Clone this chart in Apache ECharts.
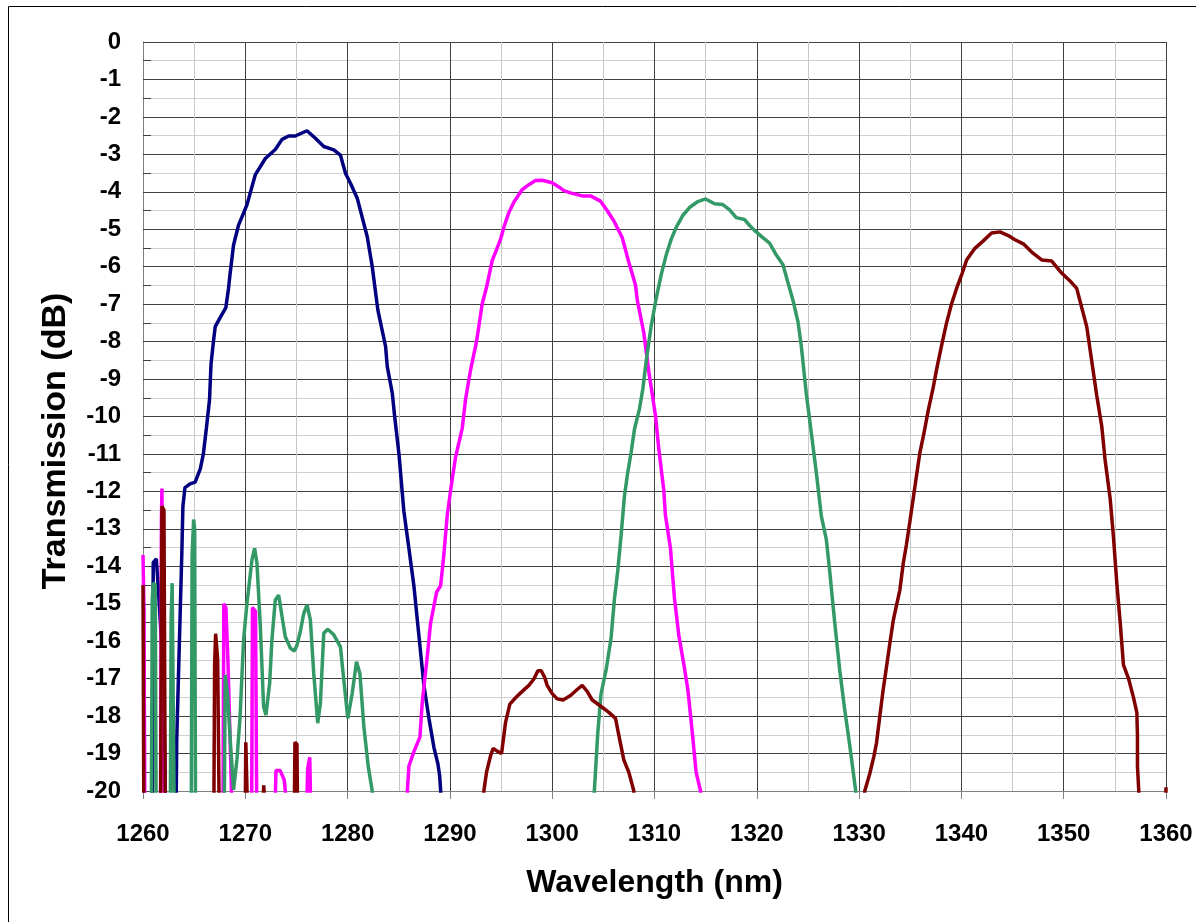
<!DOCTYPE html>
<html>
<head>
<meta charset="utf-8">
<title>Transmission vs wavelength</title>
<script src="https://cdn.jsdelivr.net/npm/echarts@6/dist/echarts.min.js"></script>
<style>
  html, body { margin: 0; padding: 0; background: #fff; }
  #main { width: 1196px; height: 922px; }
</style>
</head>
<body>
<div id="main"></div>
<script>
// [wavelength nm, transmission dB]; values under -20 are off the plot and get clipped
const blueData = [
  [1260.9, -22], [1261.0, -13.9], [1261.3, -13.8], [1261.5, -14.6], [1262.0, -16.9], [1262.3, -22],
  [1263.1, -22], [1263.25, -20], [1263.3, -18.6], [1263.46, -17.0], [1263.8, -13.6], [1263.9, -12.4],
  [1264.1, -11.9], [1264.6, -11.8], [1265.1, -11.75], [1265.6, -11.4], [1265.9, -11.0], [1266.2, -10.3],
  [1266.5, -9.56], [1266.65, -8.6], [1266.9, -7.96], [1267.06, -7.6], [1267.5, -7.38], [1268.1, -7.09],
  [1268.36, -6.58], [1268.5, -6.22], [1268.85, -5.42], [1269.34, -4.89], [1270.16, -4.35], [1270.97, -3.55],
  [1271.96, -3.11], [1272.93, -2.87], [1273.59, -2.6], [1274.24, -2.51], [1274.89, -2.51], [1276.03, -2.37],
  [1276.85, -2.57], [1277.67, -2.79], [1278.65, -2.88], [1279.3, -3.02], [1279.8, -3.51], [1280.28, -3.77],
  [1280.94, -4.17], [1281.92, -5.2], [1282.41, -6.0], [1282.96, -7.16], [1283.71, -8.13], [1283.88, -8.67],
  [1284.37, -9.38], [1284.6, -10.0], [1285.02, -11.0], [1285.5, -12.53], [1285.99, -13.52], [1286.48, -14.52],
  [1286.97, -15.85], [1287.46, -17.18], [1287.95, -18.06], [1288.44, -18.84], [1288.83, -19.28],
  [1289.0, -19.6], [1289.1, -20], [1289.2, -22]
];

const magentaData = [
  [1260.0, -13.7], [1260.1, -15.2], [1260.2, -22],
  [1261.7, -22], [1261.8, -12.8], [1261.85, -11.92], [1262.0, -11.95], [1262.15, -22],
  [1267.8, -22], [1267.9, -15.0], [1268.1, -15.1], [1268.3, -16.5], [1268.7, -20.5],
  [1270.6, -22], [1270.7, -15.1], [1271.0, -15.2], [1271.15, -22],
  [1272.9, -20.5], [1273.0, -19.45], [1273.4, -19.45], [1273.8, -19.7], [1274.1, -20.5],
  [1276.0, -20.5], [1276.1, -19.4], [1276.3, -19.1], [1276.4, -20.5],
  [1285.7, -22], [1285.84, -20], [1285.99, -19.34], [1286.48, -18.95], [1287.07, -18.56], [1287.3, -17.62],
  [1287.79, -16.4], [1288.11, -15.52], [1288.7, -14.69], [1289.09, -14.52], [1289.35, -13.86],
  [1289.74, -12.64], [1290.07, -11.97], [1290.55, -11.09], [1291.21, -10.31], [1291.53, -9.54],
  [1292.02, -8.76], [1292.61, -7.99], [1293.16, -6.99], [1293.58, -6.55], [1294.14, -5.83],
  [1294.46, -5.61], [1294.95, -5.27], [1295.28, -4.94], [1295.77, -4.55], [1296.25, -4.28],
  [1297.07, -3.94], [1297.72, -3.81], [1298.37, -3.7], [1299.02, -3.69], [1300.0, -3.76],
  [1300.65, -3.87], [1301.14, -3.97], [1301.79, -4.03], [1302.93, -4.11], [1303.75, -4.11],
  [1304.72, -4.25], [1305.37, -4.5], [1306.03, -4.78], [1306.84, -5.22], [1307.49, -5.88],
  [1308.14, -6.49], [1308.31, -6.88], [1308.96, -7.77], [1309.45, -8.82], [1310.1, -9.98],
  [1310.42, -10.87], [1310.91, -11.97], [1311.07, -12.64], [1311.56, -13.52], [1311.95, -14.85],
  [1312.38, -15.85], [1312.87, -16.62], [1313.26, -17.29], [1313.68, -18.4], [1314.07, -19.5],
  [1314.5, -20], [1314.6, -22]
];

const greenData = [
  [1260.8, -22], [1260.9, -14.9], [1261.0, -14.45], [1261.2, -14.5], [1261.3, -22],
  [1262.65, -22], [1262.75, -15.4], [1262.85, -14.45], [1263.0, -14.5], [1263.1, -22],
  [1264.7, -22], [1264.8, -13.7], [1264.95, -12.75], [1265.05, -13.0], [1265.15, -22],
  [1267.9, -22], [1268.04, -16.9], [1268.26, -17.39], [1268.53, -18.64], [1268.85, -19.97],
  [1269.18, -19.17], [1269.49, -18.01], [1269.83, -15.97], [1270.16, -14.99], [1270.65, -13.83],
  [1270.91, -13.52], [1271.14, -13.92], [1271.47, -15.61], [1271.79, -17.75], [1272.02, -17.97],
  [1272.38, -17.12], [1272.6, -15.97], [1272.93, -14.9], [1273.26, -14.77], [1273.59, -15.34],
  [1273.91, -15.88], [1274.41, -16.19], [1274.8, -16.26], [1275.06, -16.1], [1275.38, -15.74],
  [1275.71, -15.26], [1276.04, -15.03], [1276.36, -15.43], [1276.69, -16.86], [1277.08, -18.19],
  [1277.34, -17.66], [1277.67, -15.79], [1278.06, -15.68], [1278.65, -15.83], [1279.3, -16.15],
  [1279.63, -17.04], [1280.02, -18.06], [1280.45, -17.39], [1280.87, -16.55], [1281.2, -16.86],
  [1281.59, -18.28], [1282.02, -19.35], [1282.41, -20], [1282.6, -22],
  [1304.0, -22], [1304.12, -20], [1304.45, -18.47], [1304.77, -17.41], [1305.26, -16.78],
  [1305.75, -15.93], [1306.08, -14.88], [1306.4, -14.14], [1306.73, -13.19], [1307.06, -12.13],
  [1307.38, -11.5], [1307.71, -10.97], [1308.04, -10.34], [1308.52, -9.81], [1308.85, -9.28],
  [1309.18, -8.54], [1309.67, -7.59], [1310.16, -6.85], [1310.65, -6.22], [1311.14, -5.69],
  [1311.63, -5.27], [1312.12, -4.95], [1312.77, -4.63], [1313.42, -4.42], [1314.24, -4.26],
  [1314.99, -4.19], [1315.87, -4.32], [1316.68, -4.34], [1317.34, -4.48], [1317.99, -4.69],
  [1318.8, -4.74], [1319.3, -4.9], [1319.78, -5.03], [1320.44, -5.19], [1321.25, -5.37],
  [1321.91, -5.69], [1322.56, -5.95], [1323.05, -6.43], [1323.54, -6.9], [1324.03, -7.48],
  [1324.35, -8.12], [1324.84, -9.39], [1325.33, -10.44], [1325.82, -11.5], [1326.31, -12.66],
  [1326.8, -13.29], [1327.13, -14.14], [1327.62, -15.51], [1328.11, -16.78], [1328.6, -17.84],
  [1329.09, -18.79], [1329.67, -20], [1329.8, -22]
];

const redData = [
  [1260.0, -14.5], [1260.1, -22],
  [1261.7, -22], [1261.85, -12.4], [1262.05, -12.5], [1262.2, -22],
  [1266.9, -22], [1267.0, -16.6], [1267.1, -15.8], [1267.3, -16.5], [1267.5, -22],
  [1269.95, -22], [1270.05, -18.7], [1270.2, -18.7], [1270.35, -22],
  [1271.7, -20.5], [1271.8, -19.85], [1271.95, -20.5],
  [1274.75, -22], [1274.85, -18.7], [1275.05, -18.75], [1275.15, -22],
  [1293.2, -22], [1293.32, -20], [1293.58, -19.5], [1293.97, -19.06], [1294.23, -18.86],
  [1294.69, -18.95], [1295.05, -19.0], [1295.44, -18.17], [1295.86, -17.68], [1296.42, -17.51],
  [1297.07, -17.34], [1297.72, -17.18], [1298.21, -17.01], [1298.6, -16.79], [1298.93, -16.79],
  [1299.25, -16.96], [1299.51, -17.18], [1300.0, -17.4], [1300.49, -17.54], [1301.07, -17.57],
  [1301.79, -17.45], [1302.44, -17.29], [1302.93, -17.18], [1303.42, -17.34], [1303.91, -17.57],
  [1304.72, -17.73], [1305.54, -17.9], [1306.19, -18.06], [1306.51, -18.51], [1307.0, -19.17],
  [1307.49, -19.5], [1307.98, -20], [1308.1, -22],
  [1330.4, -22], [1330.55, -20], [1331.04, -19.54], [1331.44, -19.08], [1331.7, -18.72],
  [1332.02, -18.01], [1332.35, -17.3], [1332.68, -16.68], [1333.0, -16.07], [1333.33, -15.46],
  [1333.65, -15.05], [1333.98, -14.64], [1334.31, -13.93], [1334.63, -13.42], [1334.96, -12.81],
  [1335.29, -12.19], [1335.61, -11.58], [1335.94, -10.97], [1336.33, -10.46], [1336.75, -9.85],
  [1337.24, -9.23], [1337.63, -8.67], [1338.06, -8.11], [1338.55, -7.5], [1339.04, -6.99],
  [1339.53, -6.58], [1340.02, -6.22], [1340.51, -5.82], [1341.32, -5.51], [1342.14, -5.31],
  [1342.95, -5.1], [1343.77, -5.07], [1344.58, -5.17], [1345.24, -5.28], [1346.05, -5.39],
  [1346.87, -5.61], [1347.85, -5.82], [1348.83, -5.85], [1349.8, -6.17], [1350.62, -6.38],
  [1351.27, -6.58], [1351.76, -7.09], [1352.25, -7.6], [1352.74, -8.52], [1353.23, -9.44],
  [1353.72, -10.26], [1354.05, -11.17], [1354.54, -12.19], [1354.86, -13.21], [1355.19, -14.44],
  [1355.51, -15.46], [1355.84, -16.63], [1356.33, -16.99], [1356.82, -17.5], [1357.15, -17.91],
  [1357.21, -18.52], [1357.21, -19.34], [1357.34, -20], [1357.4, -22],
  [1359.9, -22], [1360.0, -19.9]
];

const seriesColors = ['#000080', '#ff00ff', '#339966', '#800000'];
const font = '"Liberation Sans", Arial, sans-serif';

const chart = echarts.init(document.getElementById('main'));

const makeLine = (data, color) => ({
  type: 'line',
  data: data,
  showSymbol: false,
  clip: true,
  animation: false,
  lineStyle: { color: color, width: 3.5 },
  z: 3
});

const option = {
  animation: false,
  backgroundColor: '#fff',
  graphic: [
    {
      type: 'rect',
      shape: { x: 8.5, y: 6.5, width: 1200, height: 930 },
      style: { fill: 'none', stroke: '#000', lineWidth: 1 },
      silent: true
    },
    {
      // y axis title, placed by hand to sit a bit below the grid middle like the original
      type: 'text',
      x: 56,
      y: 441,
      rotation: Math.PI / 2,
      style: {
        text: 'Transmission (dB)',
        font: 'bold 34px ' + font,
        fill: '#000',
        align: 'center',
        verticalAlign: 'middle'
      },
      silent: true
    }
  ],
  grid: {
    left: 143,
    top: 42,
    right: 30,
    bottom: 131
  },
  xAxis: {
    type: 'value',
    min: 1260,
    max: 1360,
    interval: 10,
    name: 'Wavelength (nm)',
    nameLocation: 'middle',
    nameGap: 76,
    nameTextStyle: { fontFamily: font, fontWeight: 'bold', fontSize: 32, color: '#000' },
    axisLine: { onZero: false, lineStyle: { color: '#808080', width: 1 } },
    axisTick: { show: true, inside: false, length: 8, lineStyle: { color: '#808080' } },
    axisLabel: {
      margin: 31,
      fontFamily: font,
      fontWeight: 'bold',
      fontSize: 24,
      color: '#000',
      formatter: v => String(v)
    },
    splitLine: { show: true, lineStyle: { color: '#404040', width: 1 } },
    minorTick: { show: false, splitNumber: 2 },
    minorSplitLine: { show: true, lineStyle: { color: '#c8c8c8', width: 1 } }
  },
  yAxis: {
    type: 'value',
    min: -20,
    max: 0,
    interval: 1,
    axisLine: { onZero: false, lineStyle: { color: '#808080', width: 1 } },
    axisTick: { show: true, inside: true, length: 8, lineStyle: { color: '#404040' } },
    minorTick: { show: true, splitNumber: 2, length: 8, lineStyle: { color: '#404040' } },
    axisLabel: {
      margin: 22,
      fontFamily: font,
      fontWeight: 'bold',
      fontSize: 24,
      color: '#000',
      formatter: v => String(v)
    },
    splitLine: { show: true, lineStyle: { color: '#404040', width: 1 } },
    minorSplitLine: { show: true, lineStyle: { color: '#d0d0d0', width: 1 } }
  },
  series: [
    makeLine(blueData, seriesColors[0]),
    makeLine(magentaData, seriesColors[1]),
    makeLine(greenData, seriesColors[2]),
    makeLine(redData, seriesColors[3])
  ]
};

chart.setOption(option);
</script>
</body>
</html>
